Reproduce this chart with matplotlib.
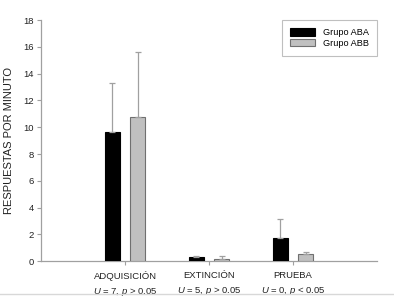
import numpy as np
import matplotlib
matplotlib.use("Agg")
import matplotlib.pyplot as plt
from matplotlib.lines import Line2D

plt.rcParams['font.family'] = ['Liberation Sans', 'DejaVu Sans']
plt.rcParams['mathtext.fontset'] = 'custom'
plt.rcParams['mathtext.rm'] = 'Liberation Sans'
plt.rcParams['mathtext.it'] = 'Liberation Sans:italic'

# data
categories = ['ADQUISICIÓN', 'EXTINCIÓN', 'PRUEBA']
stats = [r'$\it{U}$ = 7, $\it{p}$ > 0.05',
         r'$\it{U}$ = 5, $\it{p}$ > 0.05',
         r'$\it{U}$ = 0, $\it{p}$ < 0.05']
aba_mean = [9.67, 0.30, 1.69]
aba_err = [3.65, 0.08, 1.49]
abb_mean = [10.75, 0.12, 0.52]
abb_err = [4.85, 0.25, 0.14]

fig = plt.figure(figsize=(3.94, 2.97), dpi=100)
ax = fig.add_axes([0.104, 0.121, 0.853, 0.811])

x = np.arange(1, len(categories) + 1)
w = 0.18
off = 0.15
errc = '#a0a0a0'

ax.bar(x - off, aba_mean, w, color='black', edgecolor='black', linewidth=0.8,
       yerr=[np.zeros(3), aba_err], ecolor=errc,
       error_kw=dict(elinewidth=0.9, capsize=2.5, capthick=0.9),
       label='Grupo ABA', zorder=3)
ax.bar(x + off, abb_mean, w, color='#c0c0c0', edgecolor='#707070', linewidth=0.8,
       yerr=[np.zeros(3), abb_err], ecolor=errc,
       error_kw=dict(elinewidth=0.9, capsize=2.5, capthick=0.9),
       label='Grupo ABB', zorder=3)

ax.set_xlim(0, 4)
ax.set_ylim(0, 18)
ax.set_yticks(np.arange(0, 19, 2))
ax.set_xticks(x)
ax.set_xticklabels([c + '\n' + s for c, s in zip(categories, stats)],
                   linespacing=1.7)

for s in ['top', 'right']:
    ax.spines[s].set_visible(False)
for s in ['left', 'bottom']:
    ax.spines[s].set_color('#a0a0a0')
    ax.spines[s].set_linewidth(0.9)
ax.tick_params(axis='both', colors='#a0a0a0', labelcolor='#222222',
               labelsize=6.8, length=3, width=0.8, pad=2)
ax.tick_params(axis='x', pad=4)

ax.set_ylabel('RESPUESTAS POR MINUTO', fontsize=8, color='#222222', labelpad=7)

leg = ax.legend(loc='upper right', bbox_to_anchor=(1.0, 1.0), fontsize=6.6,
                frameon=True, fancybox=False, borderaxespad=0,
                handlelength=2.8, handleheight=0.9, borderpad=0.9,
                labelspacing=0.15)
leg.get_frame().set_edgecolor('#b0b0b0')
leg.get_frame().set_linewidth(0.8)

# thin gray rule along the bottom of the image
fig.add_artist(Line2D([0, 1], [0.01, 0.01], transform=fig.transFigure,
                      color='#d8d8d8', linewidth=1.0))

fig.savefig('out.png', dpi=100)
